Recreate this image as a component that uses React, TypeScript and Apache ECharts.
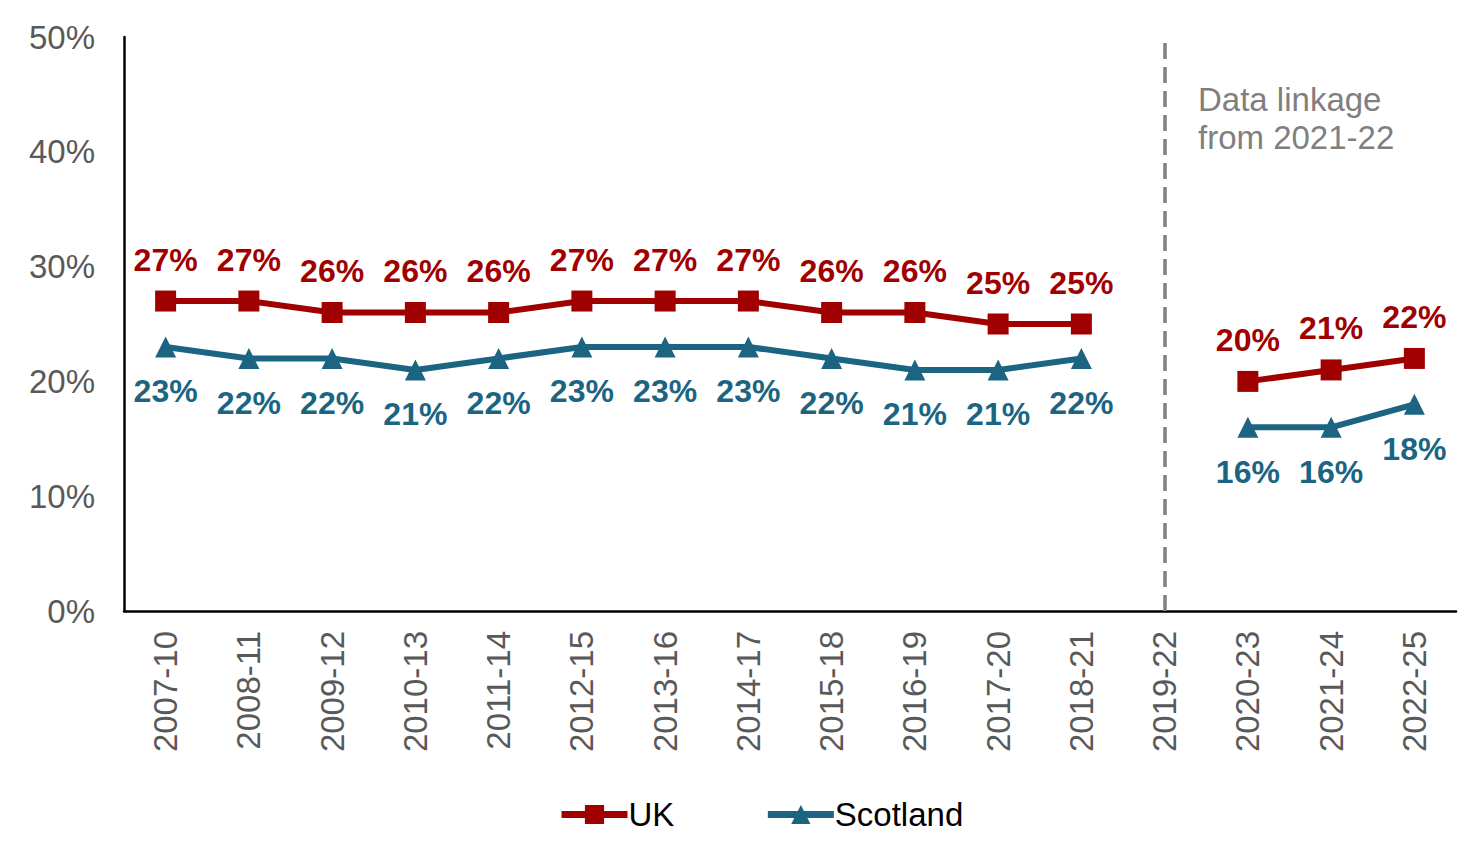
import { useEffect, useRef } from 'react'
import * as echarts from 'echarts'

const periods = [
  '2007-10', '2008-11', '2009-12', '2010-13', '2011-14', '2012-15', '2013-16', '2014-17',
  '2015-18', '2016-19', '2017-20', '2018-21', '2019-22', '2020-23', '2021-24', '2022-25'
]
const ukValues = [27, 27, 26, 26, 26, 27, 27, 27, 26, 26, 25, 25, null, 20, 21, 22]
const scotlandValues = [23, 22, 22, 21, 22, 23, 23, 23, 22, 21, 21, 22, null, 16, 16, 18]
const yTicks = [0, 10, 20, 30, 40, 50]
const breakPeriod = '2019-22'
const noteLines = ['Data linkage', 'from 2021-22']

const UK_RED = '#A00000'
const SCOT_BLUE = '#1B6583'
const GREY_TEXT = '#595959'
const FONT = '"Liberation Sans", Arial, sans-serif'

export default function App() {
  const chartRef = useRef<HTMLDivElement>(null)

  useEffect(() => {
    if (!chartRef.current) return
    const chart = echarts.init(chartRef.current, null, { renderer: 'svg' })

    const option: echarts.EChartsOption = {
      animation: false,
      textStyle: { fontFamily: FONT },
      grid: { left: 124, right: 20, top: 37, bottom: 235 },
      legend: {
        left: 553,
        top: 793,
        itemWidth: 66,
        itemHeight: 24,
        itemGap: 90,
        lineStyle: { width: 7 },
        textStyle: { fontSize: 33, color: '#000', fontFamily: FONT, padding: [0, 0, 0, -4] },
        data: ['UK', 'Scotland']
      },
      xAxis: {
        type: 'category',
        data: periods,
        boundaryGap: true,
        axisLine: { lineStyle: { color: '#000', width: 2.5 } },
        axisTick: { show: false },
        axisLabel: { rotate: 90, fontSize: 33, color: GREY_TEXT, margin: 20, interval: 0 }
      },
      yAxis: {
        type: 'value',
        min: yTicks[0],
        max: yTicks[yTicks.length - 1],
        interval: 10,
        axisLine: { show: true, lineStyle: { color: '#000', width: 2.5 } },
        axisTick: { show: false },
        splitLine: { show: false },
        axisLabel: { fontSize: 33, color: GREY_TEXT, margin: 29, formatter: '{value}%' }
      },
      graphic: [
        {
          type: 'text',
          left: 1198,
          top: 80,
          style: {
            text: noteLines.join('\n'),
            fill: '#7F7F7F',
            fontSize: 33,
            lineHeight: 38,
            fontFamily: FONT
          }
        }
      ],
      series: [
        {
          name: 'UK',
          type: 'line',
          data: ukValues,
          connectNulls: false,
          symbol: 'rect',
          symbolSize: 21,
          itemStyle: { color: UK_RED },
          lineStyle: { color: UK_RED, width: 6 },
          label: {
            show: true,
            position: 'top',
            distance: 15,
            formatter: '{c}%',
            color: UK_RED,
            fontSize: 32,
            fontWeight: 'bold',
            fontFamily: FONT
          },
          markLine: {
            silent: true,
            symbol: 'none',
            label: { show: false },
            lineStyle: { color: '#808080', width: 3.5, type: [16, 8] },
            data: [{ xAxis: breakPeriod }]
          }
        },
        {
          name: 'Scotland',
          type: 'line',
          data: scotlandValues,
          connectNulls: false,
          symbol: 'triangle',
          symbolSize: 21,
          itemStyle: { color: SCOT_BLUE },
          lineStyle: { color: SCOT_BLUE, width: 6 },
          label: {
            show: true,
            position: 'bottom',
            distance: 18,
            formatter: '{c}%',
            color: SCOT_BLUE,
            fontSize: 32,
            fontWeight: 'bold',
            fontFamily: FONT
          }
        }
      ]
    }

    chart.setOption(option)
    return () => {
      chart.dispose()
    }
  }, [])

  return (
    <div
      ref={chartRef}
      style={{ position: 'absolute', left: 0, top: 0, width: 1476, height: 846, background: '#fff' }}
    />
  )
}
